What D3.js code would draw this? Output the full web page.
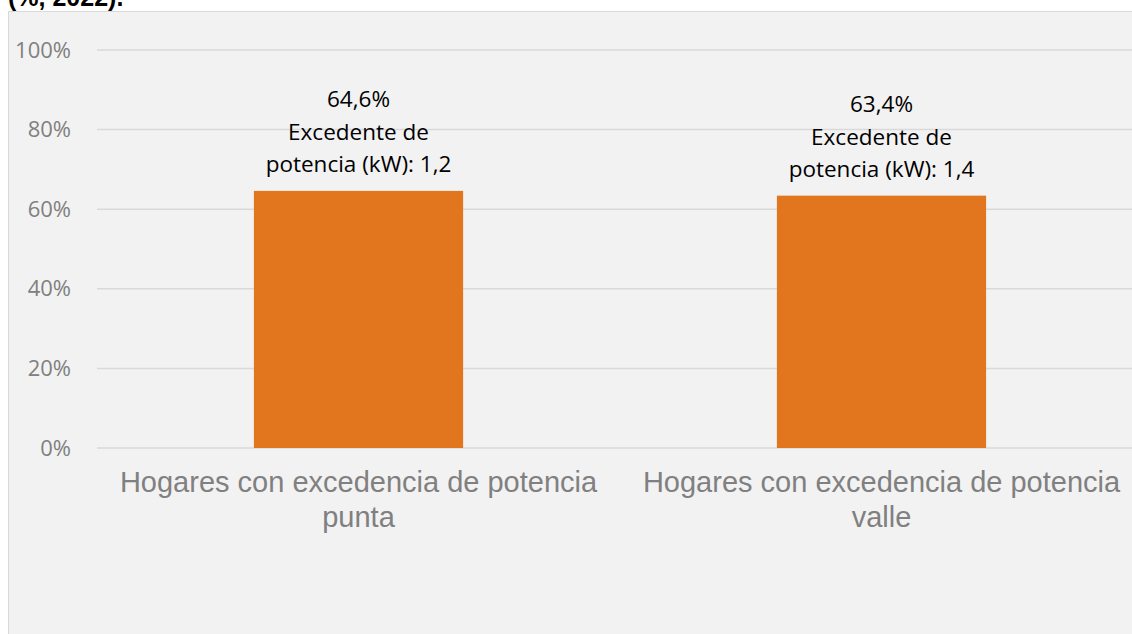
<!DOCTYPE html>
<html>
<head>
<meta charset="utf-8">
<script src="https://cdn.jsdelivr.net/npm/d3@7"></script>
<style>
  body { margin: 0; background: #fff; overflow: hidden; }
  svg { display: block; }
</style>
</head>
<body>
<svg id="chart"></svg>
<script>
'use strict'

// data
const categories = ['Hogares con excedencia de potencia punta', 'Hogares con excedencia de potencia valle']
const shares = [64.6, 63.4]
const surplusKw = ['1,2', '1,4']
const yTicks = [0, 20, 40, 60, 80, 100]

const width = 1132, height = 634
const margins = {top: 50, right: -11, bottom: 186, left: 97}
const chartWidth = width - margins.left - margins.right
const chartHeight = height - margins.top - margins.bottom

const svg = d3.select('#chart').attr('width', width).attr('height', height)

// title, cut off at the top of the picture like in the source
svg.append('text')
  .attr('x', 8).attr('y', 6)
  .style('font-family', 'Liberation Sans, Arial, sans-serif')
  .style('font-weight', 'bold')
  .style('font-size', '25px')
  .attr('fill', '#000')
  .text('(%, 2022).')

// chart frame
svg.append('rect')
  .attr('x', 8.5).attr('y', 11.5)
  .attr('width', width + 10).attr('height', height)
  .attr('fill', '#f2f2f2')
  .attr('stroke', '#d9d9d9')

const g = svg.append('g').attr('transform', 'translate(' + margins.left + ',' + margins.top + ')')

const x = d3.scaleBand().domain(categories).range([0, chartWidth]).paddingInner(0.6).paddingOuter(0.3)
const y = d3.scaleLinear().domain([0, 100]).range([chartHeight, 0])

// gridlines
g.selectAll('line.grid')
  .data(yTicks)
  .enter().append('line')
  .attr('class', 'grid')
  .attr('x1', 0).attr('x2', chartWidth)
  .attr('y1', d => y(d)).attr('y2', d => y(d))
  .attr('stroke', '#d9d9d9')
  .attr('stroke-width', 1.5)

// y axis labels
const yAxis = g.append('g').call(d3.axisLeft(y).tickValues(yTicks).tickFormat(d => d + '%').tickSize(0).tickPadding(26))
yAxis.select('.domain').remove()
yAxis.selectAll('text')
  .style('font-family', 'Open Sans, sans-serif')
  .style('font-size', '22px')
  .attr('fill', '#808080')

// bars
g.selectAll('rect.bar')
  .data(shares)
  .enter().append('rect')
  .attr('class', 'bar')
  .attr('x', (d, i) => x(categories[i]))
  .attr('y', d => y(d))
  .attr('width', x.bandwidth())
  .attr('height', d => chartHeight - y(d))
  .attr('fill', '#e2761f')

// bar labels (value + surplus power)
const labels = g.selectAll('text.bar-label')
  .data(shares)
  .enter().append('text')
  .attr('class', 'bar-label')
  .attr('text-anchor', 'middle')
  .attr('x', (d, i) => x(categories[i]) + x.bandwidth() / 2)
  .attr('y', d => y(d))
  .style('font-family', 'Open Sans, sans-serif')
  .style('font-size', '22.5px')
  .attr('fill', '#000')
const lx = function () { return d3.select(this.parentNode).attr('x') }
labels.append('tspan').attr('x', lx).attr('dy', -84).text(d => String(d).replace('.', ',') + '%')
labels.append('tspan').attr('x', lx).attr('dy', 33).text('Excedente de')
labels.append('tspan').attr('x', lx).attr('dy', 32).text((d, i) => 'potencia (kW): ' + surplusKw[i])

// category labels, wrapped in two lines
const xLabels = g.selectAll('text.cat')
  .data(categories)
  .enter().append('text')
  .attr('class', 'cat')
  .attr('text-anchor', 'middle')
  .attr('y', chartHeight + 44)
  .style('font-family', 'Liberation Sans, Arial, sans-serif')
  .style('font-size', '29px')
  .attr('fill', '#808080')
xLabels.each(function (d) {
  const words = d.split(' ')
  const cx = x(d) + x.bandwidth() / 2
  const el = d3.select(this)
  el.append('tspan').attr('x', cx).text(words.slice(0, -1).join(' '))
  el.append('tspan').attr('x', cx).attr('dy', 34.5).text(words[words.length - 1])
})
</script>
</body>
</html>
